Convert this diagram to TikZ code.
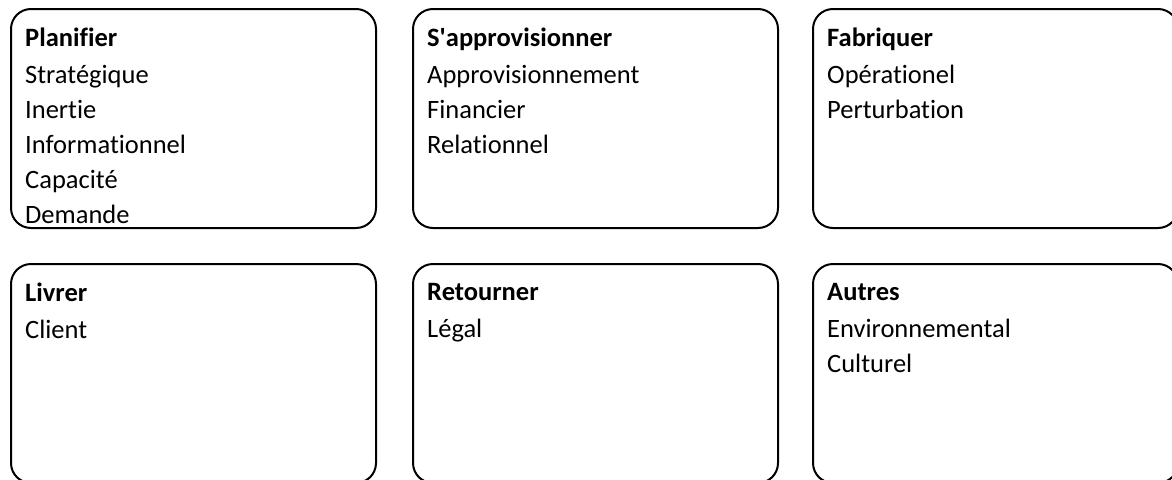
\documentclass[tikz,border=0pt]{standalone}
\usepackage{fontspec}
\setmainfont[Ligatures=NoCommon]{Carlito}
\usetikzlibrary{positioning}

\tikzset{
  boite/.style={draw,line width=2pt,rounded corners=20pt,
    minimum width=365pt,minimum height=219pt,anchor=north west,inner sep=0pt},
  liste/.style={anchor=north west,align=left,inner sep=0pt,
    font=\fontsize{26.5}{35}\selectfont}
}

\begin{document}
\begin{tikzpicture}[x=1pt,y=-1pt]
        % fix the page size
        \useasboundingbox (0,0) rectangle (1172,479);

        % draw each box with its title and its list
        \foreach \nom/\x/\y/\titre/\items in {
            planifier/10/8/Planifier/{Stratégique\\Inertie\\Informationnel\\Capacité\\Demande},
            approvisionner/412/8/S\textquotesingle approvisionner/{Approvisionnement\\Financier\\Relationnel},
            fabriquer/812/8/Fabriquer/{Opérationel\\Perturbation},
            livrer/10/263/Livrer/{Client},
            retourner/412/263/Retourner/{Légal},
            autres/812/263/Autres/{Environnemental\\Culturel}} {
                \node[boite] (\nom) at (\x,\y) {};
                \node[liste] (\nom-texte) at ([shift={(15,20)}]\nom.north west)
                    {\textbf{\titre}\\[2pt]\items};
        }
\end{tikzpicture}
\end{document}
